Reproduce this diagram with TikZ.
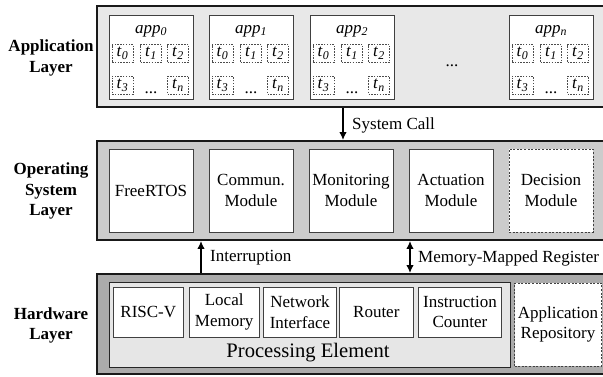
\documentclass[tikz,border=0pt]{standalone}
\usepackage{fontspec}
\setmainfont{Liberation Serif}
\usetikzlibrary{arrows.meta}
\definecolor{applayerfill}{HTML}{E8E8E8}
\definecolor{oslayerfill}{HTML}{CCCCCC}
\definecolor{hwlayerfill}{HTML}{ABABAB}
\definecolor{pefill}{HTML}{E6E6E6}
\newcommand{\subit}[2]{\textit{#1}\textsubscript{\textit{#2}}}
\begin{document}
\begin{tikzpicture}[x=1pt,y=-1pt,
  font=\fontsize{17}{20.5}\selectfont,
  layerbox/.style={draw=black!90,line width=1.8pt,inner sep=0pt},
  modbox/.style={draw=black!75,line width=0.9pt,fill=white,align=center,inner sep=0pt},
  dashbox/.style={modbox,dash pattern=on 2pt off 1.6pt},
  taskbox/.style={draw=black!70,line width=0.8pt,fill=white,dash pattern=on 1.5pt off 1.3pt,inner sep=0pt,minimum width=21,minimum height=18},
  sidelabel/.style={font=\fontsize{17}{20.5}\selectfont\bfseries,align=center},
  conn/.style={line width=2.4pt,-{Latex[length=8pt,width=7.5pt]}},
  biconn/.style={line width=2.4pt,{Latex[length=8pt,width=7.5pt]}-{Latex[length=8pt,width=7.5pt]}},
  edgelabel/.style={inner sep=0pt,anchor=west}
]
\useasboundingbox (0,0) rectangle (603,376);

% layers
\node[layerbox,fill=applayerfill,minimum width=508,minimum height=101] (applayer) at (351,56.5) {};
\node[layerbox,fill=oslayerfill,minimum width=508,minimum height=99] (oslayer) at (351,190.5) {};
\node[layerbox,fill=hwlayerfill,minimum width=508,minimum height=100] (hwlayer) at (351,324) {};

% side labels
\node[sidelabel] (applabel) at (51,58) {Application\\Layer};
\node[sidelabel] (oslabel) at (51,191) {Operating\\System\\Layer};
\node[sidelabel] (hwlabel) at (51,325.5) {Hardware\\Layer};

% application boxes
\foreach \l/\s/\n in {109/0/a0,209/1/a1,310/2/a2,509/n/an}{
  \node[modbox,minimum width=84,minimum height=84] (\n box) at (\l+42,57) {};
  \node[inner sep=0pt] (\n title) at (\l+42,31) {\subit{app}{\s}};
  \node[taskbox] (\n t0) at (\l+13.5,53.5) {\subit{t}{0}};
  \node[taskbox] (\n t1) at (\l+42,53.5) {\subit{t}{1}};
  \node[taskbox] (\n t2) at (\l+69,53.5) {\subit{t}{2}};
  \node[taskbox] (\n t3) at (\l+13.5,85) {\subit{t}{3}};
  \node[taskbox] (\n tn) at (\l+69,85) {\subit{t}{n}};
  \node[inner sep=0pt,anchor=base] (\n dots) at (\l+42,93) {...};
}
\node[inner sep=0pt,anchor=base] (appdots) at (452,66) {...};

% OS modules
\node[modbox,minimum width=84,minimum height=83] (freertos) at (151,190.5) {FreeRTOS};
\node[modbox,minimum width=84,minimum height=83] (commun) at (251,190.5) {Commun.\\Module};
\node[modbox,minimum width=84,minimum height=83] (monitor) at (351,190.5) {Monitoring\\Module};
\node[modbox,minimum width=84,minimum height=83] (actuation) at (451,190.5) {Actuation\\Module};
\node[dashbox,minimum width=84,minimum height=83] (decision) at (551,190.5) {Decision\\Module};

% hardware
\node[draw=black!85,line width=1pt,fill=pefill,minimum width=401,minimum height=85,inner sep=0pt] (pe) at (309.5,324.5) {};
\node[modbox,minimum width=70,minimum height=50] (riscv) at (148.3,312) {RISC-V};
\node[modbox,minimum width=70,minimum height=50] (localmem) at (224.2,312) {Local\\Memory};
\node[modbox,minimum width=73,minimum height=50] (netif) at (300,312) {Network\\Interface};
\node[modbox,minimum width=74,minimum height=50] (router) at (376.3,312) {Router};
\node[modbox,minimum width=83,minimum height=50] (instcount) at (460,312) {Instruction\\Counter};
\node[inner sep=0pt,font=\fontsize{20.6}{24}\selectfont] (pelabel) at (308,353) {Processing Element};
\node[dashbox,minimum width=87,minimum height=83] (apprepo) at (558,324.5) {Application\\Repository};

% connectors
\coordinate (scx) at (343,0);
\coordinate (intx) at (201,0);
\coordinate (mmrx) at (410,0);
\draw[conn] (applayer.south -| scx) -- (oslayer.north -| scx);
\node[edgelabel] (sclabel) at (352,125) {System Call};
\draw[conn] (hwlayer.north -| intx) -- (oslayer.south -| intx);
\node[edgelabel] (intlabel) at (210,258) {Interruption};
\draw[biconn] (hwlayer.north -| mmrx) -- (oslayer.south -| mmrx);
\node[edgelabel] (mmrlabel) at (418,258) {Memory-Mapped Register};
\end{tikzpicture}
\end{document}
